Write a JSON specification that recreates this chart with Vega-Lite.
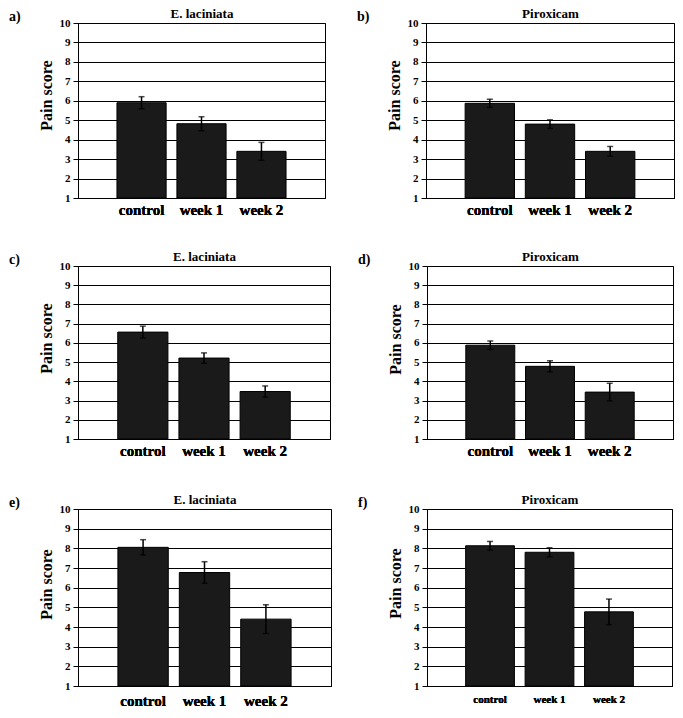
{
  "$schema": "https://vega.github.io/schema/vega-lite/v6.json",
  "padding": {"left": 8, "top": 6, "right": 2, "bottom": 2},
  "background": "white",
  "spacing": 33,
  "datasets": {
    "a": [{"period": "control", "score": 5.9, "lo": 5.59, "hi": 6.21}, {"period": "week 1", "score": 4.82, "lo": 4.46, "hi": 5.18}, {"period": "week 2", "score": 3.4, "lo": 2.94, "hi": 3.86}],
    "b": [{"period": "control", "score": 5.87, "lo": 5.66, "hi": 6.08}, {"period": "week 1", "score": 4.8, "lo": 4.58, "hi": 5.02}, {"period": "week 2", "score": 3.4, "lo": 3.15, "hi": 3.65}],
    "c": [{"period": "control", "score": 6.56, "lo": 6.25, "hi": 6.87}, {"period": "week 1", "score": 5.21, "lo": 4.94, "hi": 5.48}, {"period": "week 2", "score": 3.47, "lo": 3.18, "hi": 3.76}],
    "d": [{"period": "control", "score": 5.88, "lo": 5.66, "hi": 6.1}, {"period": "week 1", "score": 4.78, "lo": 4.49, "hi": 5.07}, {"period": "week 2", "score": 3.44, "lo": 2.98, "hi": 3.9}],
    "e": [{"period": "control", "score": 8.05, "lo": 7.66, "hi": 8.44}, {"period": "week 1", "score": 6.77, "lo": 6.22, "hi": 7.32}, {"period": "week 2", "score": 4.4, "lo": 3.67, "hi": 5.13}],
    "f": [{"period": "control", "score": 8.13, "lo": 7.91, "hi": 8.35}, {"period": "week 1", "score": 7.8, "lo": 7.57, "hi": 8.03}, {"period": "week 2", "score": 4.77, "lo": 4.12, "hi": 5.42}]
  },
  "vconcat": [
    {
      "spacing": 31,
      "vconcat": [
        {
          "spacing": 30,
          "hconcat": [
            {
              "width": 247, "height": 175,
              "data": {"name": "a"},
              "title": {"text": "a)", "anchor": "start", "frame": "bounds", "dx": -29, "dy": 17, "offset": 0},
              "encoding": {
                "x": {"field": "period", "type": "nominal", "sort": null, "scale": {"paddingInner": 0.18, "paddingOuter": 0.65}, "axis": {"orient": "bottom", "title": null}}
              },
              "layer": [
                {"mark": {"type": "bar", "fill": "#1a1a1a", "stroke": "black", "strokeWidth": 1},
                 "encoding": {
                   "y": {"field": "score", "type": "quantitative", "scale": {"domain": [1, 10], "nice": false, "zero": false}, "axis": {"title": "Pain score", "titleY": 72, "values": [1, 2, 3, 4, 5, 6, 7, 8, 9, 10], "grid": true}},
                   "y2": {"datum": 1}}},
                {"mark": {"type": "rule", "color": "black", "strokeWidth": 1.5},
                 "encoding": {
                   "x": {"field": "period", "type": "nominal", "sort": null, "axis": {"orient": "top", "title": "E. laciniata", "labels": false, "ticks": false, "domain": false, "grid": false}},
                   "y": {"field": "lo", "type": "quantitative", "axis": {"title": "Pain score", "titleY": 72, "values": [1, 2, 3, 4, 5, 6, 7, 8, 9, 10], "grid": true}},
                   "y2": {"field": "hi"}}},
                {"mark": {"type": "tick", "color": "black", "size": 6, "thickness": 1.5},
                 "encoding": {"y": {"field": "hi", "type": "quantitative", "axis": {"title": "Pain score", "titleY": 72, "values": [1, 2, 3, 4, 5, 6, 7, 8, 9, 10], "grid": true}}}},
                {"mark": {"type": "tick", "color": "black", "size": 6, "thickness": 1.5},
                 "encoding": {"y": {"field": "lo", "type": "quantitative", "axis": {"title": "Pain score", "titleY": 72, "values": [1, 2, 3, 4, 5, 6, 7, 8, 9, 10], "grid": true}}}}
              ]
            },
            {
              "width": 248, "height": 175,
              "data": {"name": "b"},
              "title": {"text": "b)", "anchor": "start", "frame": "bounds", "dx": -29, "dy": 17, "offset": 0},
              "encoding": {
                "x": {"field": "period", "type": "nominal", "sort": null, "scale": {"paddingInner": 0.18, "paddingOuter": 0.65}, "axis": {"orient": "bottom", "title": null}}
              },
              "layer": [
                {"mark": {"type": "bar", "fill": "#1a1a1a", "stroke": "black", "strokeWidth": 1},
                 "encoding": {
                   "y": {"field": "score", "type": "quantitative", "scale": {"domain": [1, 10], "nice": false, "zero": false}, "axis": {"title": "Pain score", "titleY": 72, "values": [1, 2, 3, 4, 5, 6, 7, 8, 9, 10], "grid": true}},
                   "y2": {"datum": 1}}},
                {"mark": {"type": "rule", "color": "black", "strokeWidth": 1.5},
                 "encoding": {
                   "x": {"field": "period", "type": "nominal", "sort": null, "axis": {"orient": "top", "title": "Piroxicam", "labels": false, "ticks": false, "domain": false, "grid": false}},
                   "y": {"field": "lo", "type": "quantitative", "axis": {"title": "Pain score", "titleY": 72, "values": [1, 2, 3, 4, 5, 6, 7, 8, 9, 10], "grid": true}},
                   "y2": {"field": "hi"}}},
                {"mark": {"type": "tick", "color": "black", "size": 6, "thickness": 1.5},
                 "encoding": {"y": {"field": "hi", "type": "quantitative", "axis": {"title": "Pain score", "titleY": 72, "values": [1, 2, 3, 4, 5, 6, 7, 8, 9, 10], "grid": true}}}},
                {"mark": {"type": "tick", "color": "black", "size": 6, "thickness": 1.5},
                 "encoding": {"y": {"field": "lo", "type": "quantitative", "axis": {"title": "Pain score", "titleY": 72, "values": [1, 2, 3, 4, 5, 6, 7, 8, 9, 10], "grid": true}}}}
              ]
            }
          ]
        },
        {
          "spacing": 26,
          "hconcat": [
            {
              "width": 252, "height": 173,
              "data": {"name": "c"},
              "title": {"text": "c)", "anchor": "start", "frame": "bounds", "dx": -29, "dy": 17, "offset": 0},
              "encoding": {
                "x": {"field": "period", "type": "nominal", "sort": null, "scale": {"paddingInner": 0.18, "paddingOuter": 0.65}, "axis": {"orient": "bottom", "title": null}}
              },
              "layer": [
                {"mark": {"type": "bar", "fill": "#1a1a1a", "stroke": "black", "strokeWidth": 1},
                 "encoding": {
                   "y": {"field": "score", "type": "quantitative", "scale": {"domain": [1, 10], "nice": false, "zero": false}, "axis": {"title": "Pain score", "titleY": 72, "values": [1, 2, 3, 4, 5, 6, 7, 8, 9, 10], "grid": true}},
                   "y2": {"datum": 1}}},
                {"mark": {"type": "rule", "color": "black", "strokeWidth": 1.5},
                 "encoding": {
                   "x": {"field": "period", "type": "nominal", "sort": null, "axis": {"orient": "top", "title": "E. laciniata", "labels": false, "ticks": false, "domain": false, "grid": false}},
                   "y": {"field": "lo", "type": "quantitative", "axis": {"title": "Pain score", "titleY": 72, "values": [1, 2, 3, 4, 5, 6, 7, 8, 9, 10], "grid": true}},
                   "y2": {"field": "hi"}}},
                {"mark": {"type": "tick", "color": "black", "size": 6, "thickness": 1.5},
                 "encoding": {"y": {"field": "hi", "type": "quantitative", "axis": {"title": "Pain score", "titleY": 72, "values": [1, 2, 3, 4, 5, 6, 7, 8, 9, 10], "grid": true}}}},
                {"mark": {"type": "tick", "color": "black", "size": 6, "thickness": 1.5},
                 "encoding": {"y": {"field": "lo", "type": "quantitative", "axis": {"title": "Pain score", "titleY": 72, "values": [1, 2, 3, 4, 5, 6, 7, 8, 9, 10], "grid": true}}}}
              ]
            },
            {
              "width": 246, "height": 173,
              "data": {"name": "d"},
              "title": {"text": "d)", "anchor": "start", "frame": "bounds", "dx": -29, "dy": 17, "offset": 0},
              "encoding": {
                "x": {"field": "period", "type": "nominal", "sort": null, "scale": {"paddingInner": 0.18, "paddingOuter": 0.65}, "axis": {"orient": "bottom", "title": null}}
              },
              "layer": [
                {"mark": {"type": "bar", "fill": "#1a1a1a", "stroke": "black", "strokeWidth": 1},
                 "encoding": {
                   "y": {"field": "score", "type": "quantitative", "scale": {"domain": [1, 10], "nice": false, "zero": false}, "axis": {"title": "Pain score", "titleY": 73, "values": [1, 2, 3, 4, 5, 6, 7, 8, 9, 10], "grid": true}},
                   "y2": {"datum": 1}}},
                {"mark": {"type": "rule", "color": "black", "strokeWidth": 1.5},
                 "encoding": {
                   "x": {"field": "period", "type": "nominal", "sort": null, "axis": {"orient": "top", "title": "Piroxicam", "labels": false, "ticks": false, "domain": false, "grid": false}},
                   "y": {"field": "lo", "type": "quantitative", "axis": {"title": "Pain score", "titleY": 73, "values": [1, 2, 3, 4, 5, 6, 7, 8, 9, 10], "grid": true}},
                   "y2": {"field": "hi"}}},
                {"mark": {"type": "tick", "color": "black", "size": 6, "thickness": 1.5},
                 "encoding": {"y": {"field": "hi", "type": "quantitative", "axis": {"title": "Pain score", "titleY": 73, "values": [1, 2, 3, 4, 5, 6, 7, 8, 9, 10], "grid": true}}}},
                {"mark": {"type": "tick", "color": "black", "size": 6, "thickness": 1.5},
                 "encoding": {"y": {"field": "lo", "type": "quantitative", "axis": {"title": "Pain score", "titleY": 73, "values": [1, 2, 3, 4, 5, 6, 7, 8, 9, 10], "grid": true}}}}
              ]
            }
          ]
        }
      ]
    },
    {
      "spacing": 25,
      "hconcat": [
        {
          "width": 253, "height": 177,
          "data": {"name": "e"},
          "title": {"text": "e)", "anchor": "start", "frame": "bounds", "dx": -29, "dy": 17, "offset": 0},
          "encoding": {
            "x": {"field": "period", "type": "nominal", "sort": null, "scale": {"paddingInner": 0.18, "paddingOuter": 0.65}, "axis": {"orient": "bottom", "title": null, "labelPadding": 7}}
          },
          "layer": [
            {"mark": {"type": "bar", "fill": "#1a1a1a", "stroke": "black", "strokeWidth": 1},
             "encoding": {
               "y": {"field": "score", "type": "quantitative", "scale": {"domain": [1, 10], "nice": false, "zero": false}, "axis": {"title": "Pain score", "titleY": 75, "values": [1, 2, 3, 4, 5, 6, 7, 8, 9, 10], "grid": true}},
               "y2": {"datum": 1}}},
            {"mark": {"type": "rule", "color": "black", "strokeWidth": 1.5},
             "encoding": {
               "x": {"field": "period", "type": "nominal", "sort": null, "axis": {"orient": "top", "title": "E. laciniata", "labels": false, "ticks": false, "domain": false, "grid": false}},
               "y": {"field": "lo", "type": "quantitative", "axis": {"title": "Pain score", "titleY": 75, "values": [1, 2, 3, 4, 5, 6, 7, 8, 9, 10], "grid": true}},
               "y2": {"field": "hi"}}},
            {"mark": {"type": "tick", "color": "black", "size": 6, "thickness": 1.5},
             "encoding": {"y": {"field": "hi", "type": "quantitative", "axis": {"title": "Pain score", "titleY": 75, "values": [1, 2, 3, 4, 5, 6, 7, 8, 9, 10], "grid": true}}}},
            {"mark": {"type": "tick", "color": "black", "size": 6, "thickness": 1.5},
             "encoding": {"y": {"field": "lo", "type": "quantitative", "axis": {"title": "Pain score", "titleY": 75, "values": [1, 2, 3, 4, 5, 6, 7, 8, 9, 10], "grid": true}}}}
          ]
        },
        {
          "width": 245, "height": 177,
          "data": {"name": "f"},
          "title": {"text": "f)", "anchor": "start", "frame": "bounds", "dx": -29, "dy": 17, "offset": 0},
          "encoding": {
            "x": {"field": "period", "type": "nominal", "sort": null, "scale": {"paddingInner": 0.18, "paddingOuter": 0.65}, "axis": {"orient": "bottom", "title": null, "labelFontSize": 11, "labelPadding": 7}}
          },
          "layer": [
            {"mark": {"type": "bar", "fill": "#1a1a1a", "stroke": "black", "strokeWidth": 1},
             "encoding": {
               "y": {"field": "score", "type": "quantitative", "scale": {"domain": [1, 10], "nice": false, "zero": false}, "axis": {"title": "Pain score", "titleY": 74, "values": [1, 2, 3, 4, 5, 6, 7, 8, 9, 10], "grid": true}},
               "y2": {"datum": 1}}},
            {"mark": {"type": "rule", "color": "black", "strokeWidth": 1.5},
             "encoding": {
               "x": {"field": "period", "type": "nominal", "sort": null, "axis": {"orient": "top", "title": "Piroxicam", "labels": false, "ticks": false, "domain": false, "grid": false}},
               "y": {"field": "lo", "type": "quantitative", "axis": {"title": "Pain score", "titleY": 74, "values": [1, 2, 3, 4, 5, 6, 7, 8, 9, 10], "grid": true}},
               "y2": {"field": "hi"}}},
            {"mark": {"type": "tick", "color": "black", "size": 6, "thickness": 1.5},
             "encoding": {"y": {"field": "hi", "type": "quantitative", "axis": {"title": "Pain score", "titleY": 74, "values": [1, 2, 3, 4, 5, 6, 7, 8, 9, 10], "grid": true}}}},
            {"mark": {"type": "tick", "color": "black", "size": 6, "thickness": 1.5},
             "encoding": {"y": {"field": "lo", "type": "quantitative", "axis": {"title": "Pain score", "titleY": 74, "values": [1, 2, 3, 4, 5, 6, 7, 8, 9, 10], "grid": true}}}}
          ]
        }
      ]
    }
  ],
  "config": {
    "font": "Times New Roman, Liberation Serif, Tinos, serif",
    "view": {"stroke": "black", "strokeWidth": 1},
    "title": {"font": "Times New Roman, Liberation Serif, Tinos, serif", "fontWeight": "bold", "fontSize": 14, "color": "black"},
    "axis": {"labelFont": "Times New Roman, Liberation Serif, Tinos, serif", "labelFontWeight": "bold", "labelColor": "black", "titleFont": "Times New Roman, Liberation Serif, Tinos, serif", "titleFontWeight": "bold", "titleColor": "black", "domainColor": "black", "tickColor": "black", "gridColor": "black", "gridOpacity": 1},
    "axisY": {"labelFontSize": 11, "tickSize": 5, "labelPadding": 3, "titleFontSize": 16, "titlePadding": 5},
    "axisX": {"labelFontSize": 15, "labelPadding": 4, "ticks": false, "labelAngle": 0, "grid": false, "titleFontSize": 13, "titlePadding": 3}
  }
}
